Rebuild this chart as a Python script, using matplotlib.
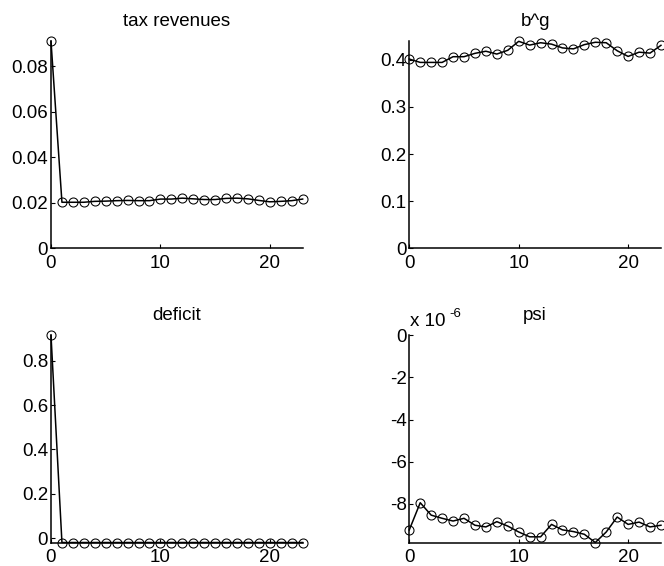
import matplotlib
matplotlib.use("Agg")
import matplotlib.pyplot as plt
import numpy as np

plt.rcParams["font.family"] = ["Liberation Sans", "DejaVu Sans"]

periods = np.arange(24)

tax_revenues = [0.0910, 0.0203, 0.0203, 0.0203, 0.0207, 0.0208, 0.0210, 0.0211,
                0.0210, 0.0210, 0.0217, 0.0217, 0.0221, 0.0218, 0.0215, 0.0215,
                0.0220, 0.0221, 0.0218, 0.0211, 0.0205, 0.0207, 0.0210, 0.0217]

b_g = [0.4014, 0.3943, 0.3943, 0.3943, 0.4064, 0.4064, 0.4135, 0.4180,
       0.4120, 0.4200, 0.4390, 0.4310, 0.4360, 0.4330, 0.4250, 0.4230,
       0.4320, 0.4370, 0.4360, 0.4190, 0.4070, 0.4160, 0.4140, 0.4305]

deficit = [0.915, -0.020, -0.020, -0.020, -0.020, -0.020, -0.020, -0.020,
           -0.020, -0.020, -0.020, -0.020, -0.020, -0.020, -0.020, -0.020,
           -0.020, -0.020, -0.020, -0.020, -0.020, -0.020, -0.020, -0.020]

# psi in units of 1e-6
psi_e6 = [-9.24, -7.95, -8.54, -8.69, -8.82, -8.69, -9.02, -9.10,
          -8.85, -9.06, -9.34, -9.57, -9.57, -8.98, -9.24, -9.32,
          -9.45, -9.84, -9.34, -8.63, -8.98, -8.87, -9.10, -9.02]

x_ticks = [0, 10, 20]
tax_ticks = [0, 0.02, 0.04, 0.06, 0.08]
tax_labels = ["0", "0.02", "0.04", "0.06", "0.08"]
bg_ticks = [0, 0.1, 0.2, 0.3, 0.4]
bg_labels = ["0", "0.1", "0.2", "0.3", "0.4"]
deficit_ticks = [0, 0.2, 0.4, 0.6, 0.8]
deficit_labels = ["0", "0.2", "0.4", "0.6", "0.8"]
psi_ticks = [-8, -6, -4, -2, 0]
psi_labels = ["-8", "-6", "-4", "-2", "0"]

fig = plt.figure(figsize=(6.64, 5.66), dpi=100)

W = 0.379
H = 0.366
boxes = {
    "tl": [0.0768, 0.561, W, H],
    "tr": [0.6164, 0.561, W, H],
    "bl": [0.0768, 0.0415, W, H],
    "br": [0.6164, 0.0415, W, H],
}

panels = [
    ("tl", "tax revenues", tax_revenues, tax_ticks, tax_labels),
    ("tr", "b^g", b_g, bg_ticks, bg_labels),
    ("bl", "deficit", deficit, deficit_ticks, deficit_labels),
    ("br", "psi", psi_e6, psi_ticks, psi_labels),
]

for key, title, y, yt, ytl in panels:
    ax = fig.add_axes(boxes[key])
    ax.plot(periods, y, color="black", linewidth=1.1, marker="o",
            markersize=6.5, markerfacecolor="none", markeredgecolor="black",
            markeredgewidth=0.75, clip_on=False)
    ax.set_xlim(0, 23)
    if key == "br":
        ax.set_ylim(min(y), 0)
    elif key == "bl":
        ax.set_ylim(min(y), max(y))
    else:
        ax.set_ylim(0, max(y))
    ax.set_xticks(x_ticks)
    ax.set_yticks(yt)
    ax.set_yticklabels(ytl)
    ax.spines["top"].set_visible(False)
    ax.spines["right"].set_visible(False)
    for s in ("left", "bottom"):
        ax.spines[s].set_linewidth(1.1)
    ax.tick_params(direction="in", length=3, width=0.8, labelsize=13.5)
    ax.tick_params(axis="x", pad=5)
    ax.tick_params(axis="y", pad=2)
    ax.set_title(title, fontsize=13.5, pad=11)
    if key == "br":
        # exponent label above the y axis
        ax.annotate("x 10", xy=(0, 1), xycoords="axes fraction",
                    xytext=(0.5, 6.5), textcoords="offset points",
                    ha="left", va="baseline", fontsize=13.5)
        ax.annotate("-6", xy=(0, 1), xycoords="axes fraction",
                    xytext=(29, 13), textcoords="offset points",
                    ha="left", va="baseline", fontsize=9.5)

fig.savefig("out.png", dpi=100)
